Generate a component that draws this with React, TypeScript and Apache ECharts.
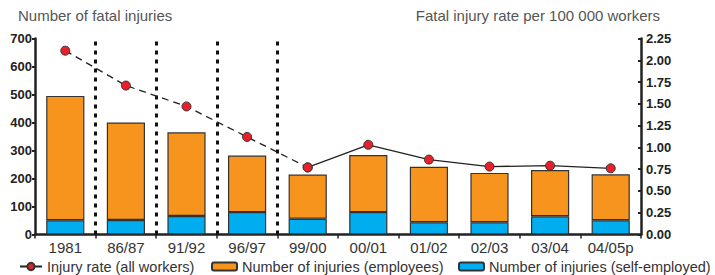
import React, { useEffect, useRef } from "react";
import * as echarts from "echarts";

const categories = ["1981", "86/87", "91/92", "96/97", "99/00", "00/01", "01/02", "02/03", "03/04", "04/05p"];
const selfEmployed = [51, 52, 66, 80, 56, 80, 44, 44, 65, 51];
const employees = [444, 348, 299, 202, 158, 204, 198, 176, 165, 164];
const injuryRateDashed: (number | null)[] = [2.11, 1.71, 1.47, 1.12, 0.77, null, null, null, null, null];
const injuryRateSolid: (number | null)[] = [null, null, null, null, 0.77, 1.03, 0.86, 0.78, 0.79, 0.76];
const leftTicks = [0, 700, 100];
const rightTicks = [0, 2.25, 0.25];
const dividerPositions = [0.5, 1.5, 2.5, 3.5];

const FONT = "Liberation Sans, Arial, sans-serif";

export default function App() {
  const ref = useRef<HTMLDivElement>(null);
  useEffect(() => {
    if (!ref.current) return;
    const chart = echarts.init(ref.current, null, { renderer: "svg" });
    const rateName = "Injury rate (all workers)";
    const empName = "Number of injuries (employees)";
    const selfName = "Number of injuries (self-employed)";
    const markerStyle = { color: "#e8202a", borderColor: "#333", borderWidth: 1 };
    const legendText = { fontFamily: FONT, fontSize: 14.5, color: "#333" };
    chart.setOption({
      animation: false,
      textStyle: { fontFamily: FONT },
      title: [
        { text: "Number of fatal injuries", left: 13, top: 3, textStyle: { fontFamily: FONT, fontSize: 15, fontWeight: "normal", color: "#555" } },
        { text: "Fatal injury rate per 100 000 workers", right: 50, top: 3, textStyle: { fontFamily: FONT, fontSize: 15, fontWeight: "normal", color: "#555" } },
      ],
      legend: [
        { data: [{ name: rateName, lineStyle: { type: "solid" } }], left: 14, top: 254, itemWidth: 22, itemHeight: 9, textStyle: legendText },
        { data: [empName], left: 206, top: 254, itemWidth: 25, itemHeight: 8, textStyle: legendText },
        { data: [selfName], left: 453, top: 254, itemWidth: 25, itemHeight: 8, textStyle: legendText },
      ],
      grid: { left: 35, right: 74, top: 38.5, bottom: 40.5 },
      xAxis: [
        {
          type: "category",
          data: categories,
          axisLine: { lineStyle: { color: "#222", width: 2.5 } },
          axisTick: { show: true, length: 4, lineStyle: { color: "#222", width: 1.5 } },
          axisLabel: { fontSize: 15, color: "#333", margin: 5, fontFamily: FONT },
        },
        { type: "value", min: -0.5, max: 9.5, show: false },
      ],
      yAxis: [
        {
          type: "value",
          min: leftTicks[0],
          max: leftTicks[1],
          interval: leftTicks[2],
          axisLine: { show: true, onZero: false, lineStyle: { color: "#222", width: 2.5 } },
          axisTick: { show: true, length: 3, lineStyle: { color: "#222", width: 2 } },
          axisLabel: { fontSize: 13, fontWeight: "bold", color: "#222", margin: 3, fontFamily: FONT },
          splitLine: { show: false },
        },
        {
          type: "value",
          min: rightTicks[0],
          max: rightTicks[1],
          interval: rightTicks[2],
          position: "right",
          axisLine: { show: true, onZero: false, lineStyle: { color: "#222", width: 2.5 } },
          axisTick: { show: true, inside: true, length: 3, lineStyle: { color: "#222", width: 2 } },
          axisLabel: { fontSize: 13, fontWeight: "bold", color: "#222", margin: 5, fontFamily: FONT, formatter: (v: number) => v.toFixed(2) },
          splitLine: { show: false },
        },
      ],
      series: [
        {
          name: selfName,
          type: "bar",
          stack: "n",
          data: selfEmployed,
          barWidth: "63%",
          itemStyle: { color: "#00aeef", borderColor: "#333", borderWidth: 1.2 },
        },
        {
          name: empName,
          type: "bar",
          stack: "n",
          data: employees,
          barWidth: "63%",
          itemStyle: { color: "#f7941d", borderColor: "#333", borderWidth: 1.2 },
        },
        {
          type: "line",
          xAxisIndex: 1,
          data: [],
          silent: true,
          markLine: {
            silent: true,
            symbol: "none",
            label: { show: false },
            lineStyle: { color: "#111", width: 3, type: [4, 5] },
            data: dividerPositions.map((x) => ({ xAxis: x })),
          },
        },
        {
          name: rateName,
          type: "line",
          yAxisIndex: 1,
          data: injuryRateSolid,
          symbol: "circle",
          symbolSize: 9,
          lineStyle: { color: "#222", width: 1.3 },
          itemStyle: markerStyle,
          z: 5,
        },
        {
          name: rateName,
          type: "line",
          yAxisIndex: 1,
          data: injuryRateDashed,
          symbol: "circle",
          symbolSize: 9,
          lineStyle: { color: "#222", width: 1.3, type: [7, 5] },
          itemStyle: markerStyle,
          z: 5,
        },
      ],
    });
    return () => chart.dispose();
  }, []);
  return <div ref={ref} style={{ width: 715, height: 275, position: "absolute", left: 0, top: 0 }} />;
}
